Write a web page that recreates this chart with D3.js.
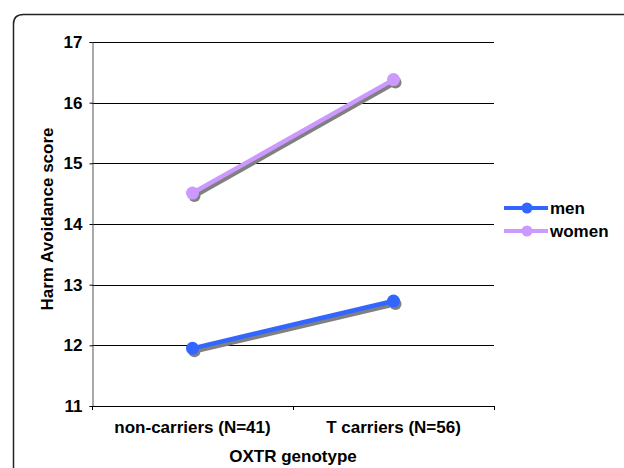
<!DOCTYPE html>
<html><head><meta charset="utf-8">
<script src="https://cdn.jsdelivr.net/npm/d3@7"></script>
<style>body{margin:0;background:#fff}svg{display:block}text{font-family:"Liberation Sans",Arial,Helvetica,sans-serif;font-weight:bold;fill:#000}</style>
</head><body><svg id="c" width="624" height="468"></svg>
<script>
const categories = ["non-carriers (N=41)", "T carriers (N=56)"];
const seriesNames = ["men", "women"];
const menValues = [11.95, 12.73];
const womenValues = [14.51, 16.38];
const yTicks = [11, 12, 13, 14, 15, 16, 17];
const colors = {men: "#3366FF", women: "#CC99FF"};

const svg = d3.select("#c");
// outer frame with rounded corner
svg.append("path").attr("d", "M13.5,470 L13.5,24 Q13.5,14.5 23.5,14.5 L630,14.5")
  .attr("fill", "none").attr("stroke", "#222").attr("stroke-width", 1.5);

const x0 = 92, x1 = 494, yTop = 42, yBot = 406;
const x = d3.scaleBand().domain(categories).range([x0, x1]).padding(0);
const y = d3.scaleLinear().domain([11, 17]).range([yBot, yTop]);
const cx = c => x(c) + x.bandwidth() / 2;

// gridlines
svg.append("g").selectAll("line").data(yTicks.slice(1)).join("line")
  .attr("x1", x0).attr("x2", x1).attr("y1", d => Math.round(y(d)) + 0.5).attr("y2", d => Math.round(y(d)) + 0.5)
  .attr("stroke", "#000").attr("stroke-width", 1);

// y axis
const ya = svg.append("g").attr("transform", `translate(${x0 + 0.5},0)`)
  .call(d3.axisLeft(y).tickValues(yTicks).tickSize(3).tickPadding(7).tickFormat(d3.format("d")));
ya.select(".domain").attr("stroke", "#555");
ya.selectAll(".tick line").attr("stroke", "#000");
ya.selectAll("text").attr("font-size", 17).style("font-weight", "bold");

// x axis
const xa = svg.append("g").attr("transform", `translate(0,${yBot + 0.5})`)
  .call(d3.axisBottom(x).tickSize(0).tickPadding(14));
xa.select(".domain").attr("stroke", "#000").attr("d", `M${x0},0H${x1}`);
xa.selectAll("text").attr("font-size", 17).style("font-weight", "bold");
svg.append("g").selectAll("line").data([x0, x(categories[1]), x1]).join("line")
  .attr("x1", d => d + 0.5).attr("x2", d => d + 0.5).attr("y1", yBot).attr("y2", yBot + 4)
  .attr("stroke", "#000");

// axis titles
svg.append("text").attr("x", 293).attr("y", 462).attr("text-anchor", "middle")
  .attr("font-size", 17).text("OXTR genotype");
svg.append("text").attr("transform", "translate(53,219) rotate(-90)").attr("text-anchor", "middle")
  .attr("font-size", 17).text("Harm Avoidance score");

// series
const series = [{name: "men", vals: menValues}, {name: "women", vals: womenValues}];
const line = d3.line().x((d, i) => cx(categories[i])).y(d => y(d));
series.forEach(s => {
  const g = svg.append("g");
  // shadow
  g.append("path").datum(s.vals).attr("d", line).attr("transform", "translate(2,3)")
    .attr("fill", "none").attr("stroke", "#808080").attr("stroke-width", 4.5);
  g.selectAll("circle.sh").data(s.vals).join("circle").attr("class", "sh")
    .attr("cx", (d, i) => cx(categories[i]) + 2).attr("cy", d => y(d) + 3).attr("r", 6).attr("fill", "#808080");
  g.append("path").datum(s.vals).attr("d", line)
    .attr("fill", "none").attr("stroke", colors[s.name]).attr("stroke-width", 4.5);
  g.selectAll("circle.pt").data(s.vals).join("circle").attr("class", "pt")
    .attr("cx", (d, i) => cx(categories[i])).attr("cy", d => y(d)).attr("r", 6.5).attr("fill", colors[s.name]);
});

// legend
const lg = svg.append("g").selectAll("g").data(seriesNames).join("g")
  .attr("transform", (d, i) => `translate(504,${208 + i * 23})`);
lg.append("line").attr("x1", 0).attr("x2", 44).attr("stroke", d => colors[d]).attr("stroke-width", 4);
lg.append("circle").attr("cx", 23).attr("r", 5.5).attr("fill", d => colors[d]);
lg.append("text").attr("x", 46).attr("y", 6).attr("font-size", 17).text(d => d);
</script></body></html>
